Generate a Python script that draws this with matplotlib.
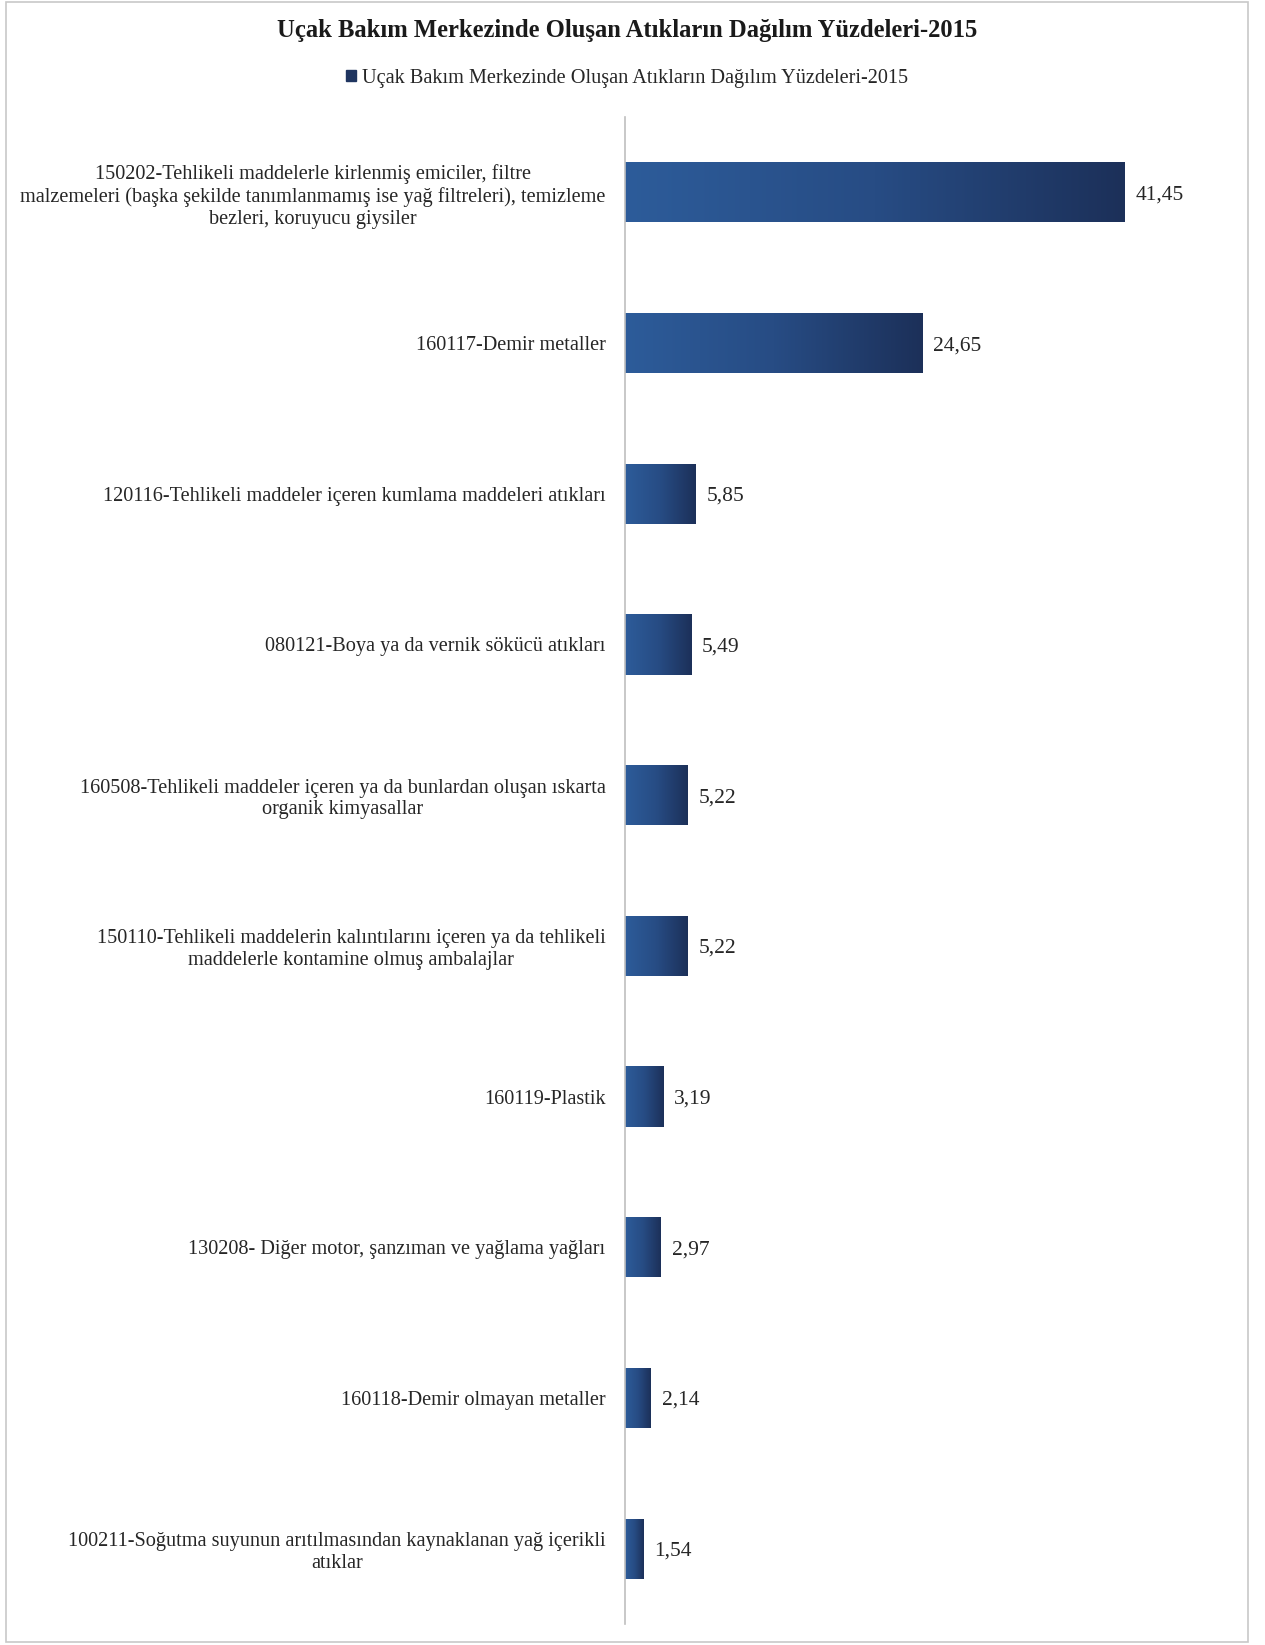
import numpy as np
import matplotlib.pyplot as plt
from matplotlib.colors import LinearSegmentedColormap
from matplotlib.patches import Rectangle

plt.rcParams['font.family'] = ['Liberation Serif', 'DejaVu Serif']

# Waste categories (top to bottom) and their share (%)
categories = [
    "150202-Tehlikeli maddelerle kirlenmiş emiciler, filtre\n"
    "malzemeleri (başka şekilde tanımlanmamış ise yağ filtreleri), temizleme\n"
    "bezleri, koruyucu giysiler",
    "160117-Demir metaller",
    "120116-Tehlikeli maddeler içeren kumlama maddeleri atıkları",
    "080121-Boya ya da vernik sökücü atıkları",
    "160508-Tehlikeli maddeler içeren ya da bunlardan oluşan ıskarta\n"
    "organik kimyasallar",
    "150110-Tehlikeli maddelerin kalıntılarını içeren ya da tehlikeli\n"
    "maddelerle kontamine olmuş ambalajlar",
    "160119-Plastik",
    "130208- Diğer motor, şanzıman ve yağlama yağları",
    "160118-Demir olmayan metaller",
    "100211-Soğutma suyunun arıtılmasından kaynaklanan yağ içerikli\n"
    "atıklar",
]
values = [41.45, 24.65, 5.85, 5.49, 5.22, 5.22, 3.19, 2.97, 2.14, 1.54]
value_labels = ["41,45", "24,65", "5,85", "5,49", "5,22", "5,22", "3,19", "2,97", "2,14", "1,54"]
series_name = "Uçak Bakım Merkezinde Oluşan Atıkların Dağılım Yüzdeleri-2015"

W, H = 1265, 1645
fig = plt.figure(figsize=(W / 100, H / 100), dpi=100)

# light gray chart border
fig.patches.append(Rectangle((6 / W, 1 - 1642 / H), (1248 - 6) / W, (1642 - 2) / H,
                             transform=fig.transFigure, fill=False,
                             edgecolor='#C8C8C8', linewidth=1.2))

ax = fig.add_axes([625 / W, 1 - 1624 / H, (1245 - 625) / W, (1624 - 117) / H])

y = np.arange(len(values))
bars = ax.barh(y, values, height=0.4, color='#264B82', label=series_name)

# horizontal gradient on each bar, lighter on the left
grad = LinearSegmentedColormap.from_list('navy', ['#2D5C9A', '#274C84', '#1C3059'])
for b in bars:
    x0, y0 = b.get_x(), b.get_y()
    im = ax.imshow(np.linspace(0, 1, 256).reshape(1, -1), cmap=grad, aspect='auto',
                   extent=(x0, x0 + b.get_width(), y0 + b.get_height(), y0),
                   zorder=2)
    im.set_clip_path(b)

for yi, v, lab in zip(y, values, value_labels):
    ax.text(v + 0.9, yi, lab, va='center_baseline', ha='left', fontsize=15.5,
            color='#262626')

ax.set_xlim(0, (1245 - 625) / 12.05)
ax.set_ylim(len(values) - 0.5, -0.5)
ax.set_yticks(y)
ax.set_yticklabels(categories, fontsize=14.6, color='#262626', linespacing=1.2)
for t in ax.get_yticklabels():
    t.set_multialignment('center')
ax.tick_params(axis='y', length=0, pad=14)
ax.set_xticks([])
for s in ['top', 'right', 'bottom']:
    ax.spines[s].set_visible(False)
ax.spines['left'].set_color('#BFBFBF')
ax.spines['left'].set_linewidth(1.2)

fig.text(627 / W, 1 - 31 / H, series_name, ha='center', va='center',
         fontsize=17.7, fontweight='bold', color='#1a1a1a')
fig.legend(handles=[Rectangle((0, 0), 1, 1, color='#1F3560')], labels=[series_name],
           loc='center', bbox_to_anchor=(627 / W, 1 - 78 / H), frameon=False,
           fontsize=14.6, handlelength=0.5, handleheight=0.5, handletextpad=0.3,
           labelcolor='#262626')

fig.savefig('out.png', dpi=100)
